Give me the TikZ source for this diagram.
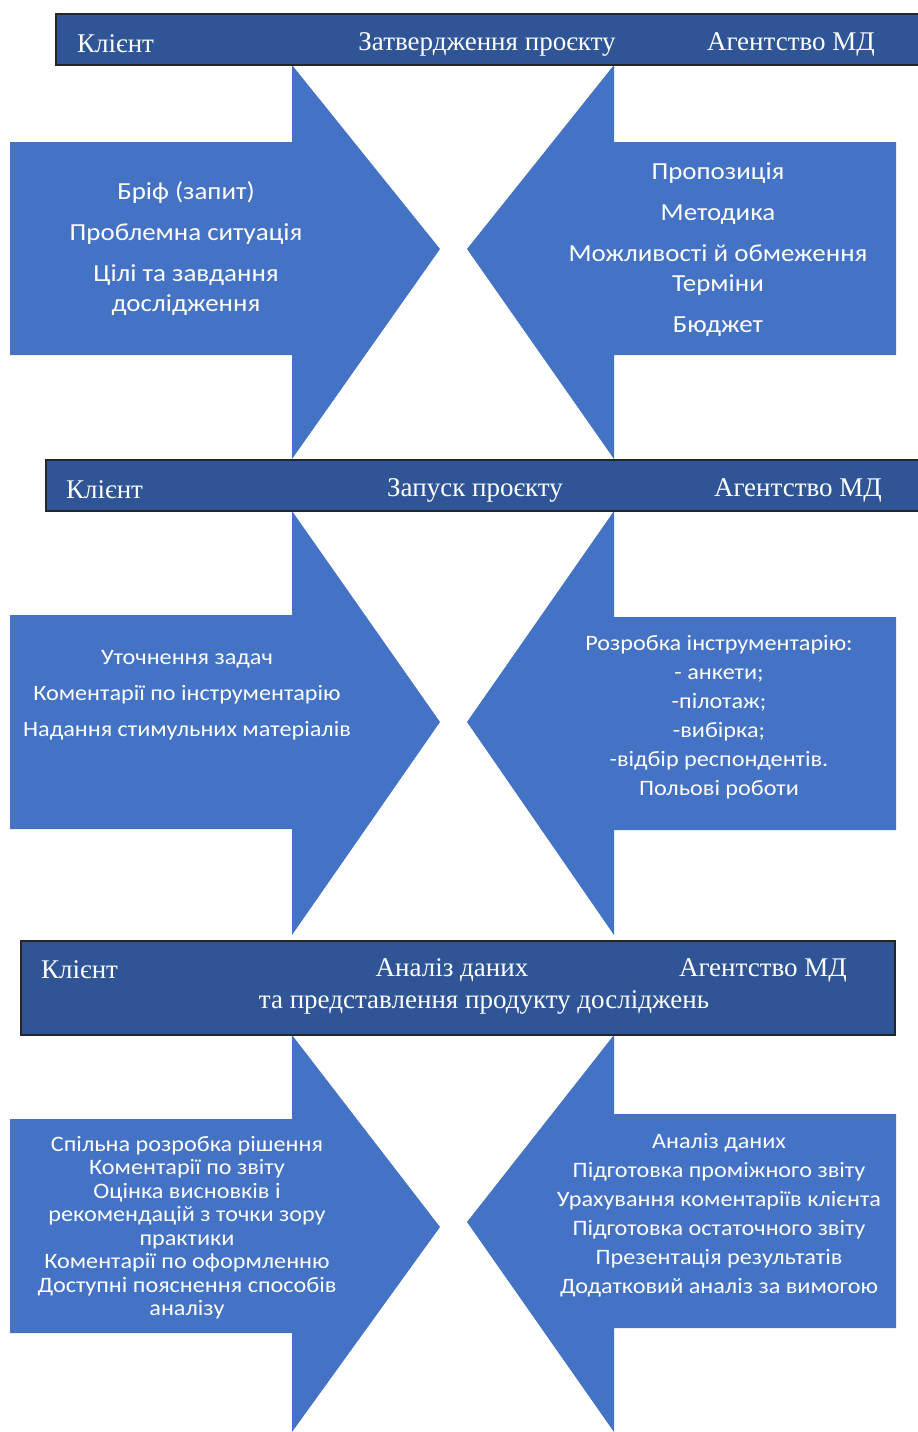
\documentclass[tikz,border=0pt]{standalone}
\usepackage{fontspec}
\setmainfont{Liberation Serif}
\newfontfamily\calibri[FakeStretch=1.1]{Carlito}
\usetikzlibrary{positioning}
\definecolor{mdblue}{HTML}{4472C4}
\definecolor{mddark}{HTML}{2F5597}

\tikzset{
  arrowshape/.style={fill=mdblue, draw=none},
  hdrbar/.style={fill=mddark, draw=black!85, line width=1.5pt},
  hdrtxt/.style={text=white, font=\fontsize{27}{31}\selectfont, inner sep=0pt},
  bigtxt/.style={text=white, align=center, inner sep=0pt,
    font=\calibri\fontsize{24.5}{30}\selectfont},
  smalltxt/.style={text=white, align=center, inner sep=0pt,
    font=\calibri\fontsize{22}{29}\selectfont}
}

\begin{document}
\begin{tikzpicture}[x=1pt, y=-1pt]
  \useasboundingbox (0,0) rectangle (918,1432);

  % arrows: body top/bottom (left, right), head top/bottom, tip y (left, right)
  \foreach \lt/\lb/\rt/\rb/\ht/\hb/\tl/\tr in {142/355/142/355/65/459/249/249,
      615/829/617/830/511/935/722/722,
      1119/1333/1114/1328/1035/1432/1227/1222}{
    \fill[arrowshape] (10,\lt) -- (292,\lt) -- (292,\ht) -- (440,\tl)
      -- (292,\hb) -- (292,\lb) -- (10,\lb) -- cycle;
    \fill[arrowshape] (896,\rt) -- (614,\rt) -- (614,\ht) -- (467,\tr)
      -- (614,\hb) -- (614,\rb) -- (896,\rb) -- cycle;
  }

  % header bars
  \draw[hdrbar] (56,14) rectangle (925,65);
  \draw[hdrbar] (46,460) rectangle (925,511);
  \draw[hdrbar] (21,941) rectangle (895,1035);

  \node[hdrtxt, anchor=west] (cliA) at (77,44) {Клієнт};
  \node[hdrtxt] (stageA) at (487,44) {Затвердження проєкту};
  \node[hdrtxt, anchor=east] (agA) at (875,44) {Агентство МД};

  \node[hdrtxt, anchor=west] (cliB) at (66,490) {Клієнт};
  \node[hdrtxt] (stageB) at (475,490) {Запуск проєкту};
  \node[hdrtxt, anchor=east] (agB) at (882,490) {Агентство МД};

  \node[hdrtxt, anchor=west] (cliC) at (41,970) {Клієнт};
  \node[hdrtxt] (stageC) at (452,970) {Аналіз даних};
  \node[hdrtxt, anchor=east] (agC) at (847,970) {Агентство МД};
  \node[hdrtxt] (stageCb) at (484,1002) {та представлення продукту досліджень};

  % stage 1 texts
  \node[bigtxt] (cliTxtA) at (186,249)
    {Бріф (запит)\\[11pt] Проблемна ситуація\\[11pt] Цілі та завдання\\ дослідження};
  \node[bigtxt] (agTxtA) at (718,249.5)
    {Пропозиція\\[11pt] Методика\\[11pt] Можливості й обмеження\\ Терміни\\[11pt] Бюджет};

  % stage 2 texts
  \node[smalltxt] (cliTxtB) at (187,695)
    {Уточнення задач\\[7pt] Коментарії по інструментарію\\[7pt] Надання стимульних матеріалів};
  \node[smalltxt] (agTxtB) at (719,717)
    {Розробка інструментарію:\\ - анкети;\\ -пілотаж;\\ -вибірка;\\ -відбір респондентів.\\ Польові роботи};

  % stage 3 texts
  \node[smalltxt, font=\calibri\fontsize{22}{23.5}\selectfont] (cliTxtC) at (187,1227.5)
    {Спільна розробка рішення\\ Коментарії по звіту\\ Оцінка висновків і\\ рекомендацій з точки зору\\ практики\\ Коментарії по оформленню\\ Доступні пояснення способів\\ аналізу};
  \node[smalltxt] (agTxtC) at (719,1215)
    {Аналіз даних\\ Підготовка проміжного звіту\\ Урахування коментаріїв клієнта\\ Підготовка остаточного звіту\\ Презентація результатів\\ Додатковий аналіз за вимогою};
\end{tikzpicture}
\end{document}
